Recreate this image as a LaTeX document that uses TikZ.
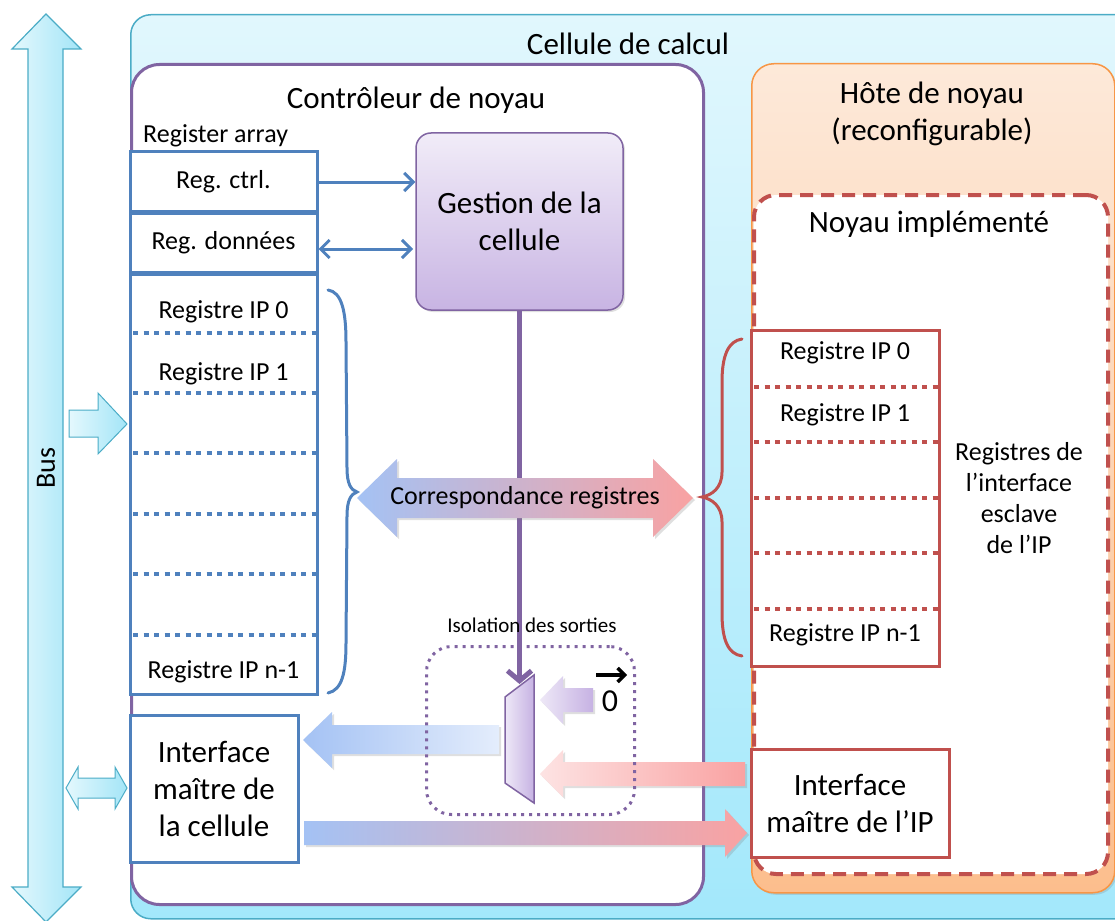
\documentclass[tikz,border=0pt]{standalone}
\usepackage{fontspec}
\setmainfont{Carlito}
\usetikzlibrary{arrows.meta,shadows}
\definecolor{cyanB}{HTML}{4BACC6}
\definecolor{cyanTop}{HTML}{E1F7FD}
\definecolor{cyanBot}{HTML}{A3E8FB}
\definecolor{orB}{HTML}{F79646}
\definecolor{orTop}{HTML}{FDE9D9}
\definecolor{orBot}{HTML}{FCBE8D}
\definecolor{purB}{HTML}{8064A2}
\definecolor{purTop}{HTML}{F1ECF8}
\definecolor{purBot}{HTML}{C8B4E3}
\definecolor{bluB}{HTML}{4F81BD}
\definecolor{redB}{HTML}{C0504D}
\definecolor{arBlue}{HTML}{A4C2F4}
\definecolor{arBlueL}{HTML}{E4EDFC}
\definecolor{arPink}{HTML}{F9A2A2}
\definecolor{arPinkL}{HTML}{FDE3E3}
\definecolor{arPurL}{HTML}{EEE8F7}
\definecolor{arPur}{HTML}{C6B2E3}
\definecolor{busL}{HTML}{E4F8FD}
\definecolor{busD}{HTML}{A3E5F7}
\begin{document}
\begin{tikzpicture}[x=1pt,y=-1pt,
  big/.style={font=\fontsize{31}{37}\selectfont},
  med/.style={font=\fontsize{26}{31}\selectfont},
  small/.style={font=\fontsize{21}{25}\selectfont},
  bluebox/.style={draw=bluB, line width=3pt, fill=white, inner sep=0pt},
  redbox/.style={draw=redB, line width=3pt, fill=white, inner sep=0pt},
  bluedots/.style={draw=bluB, line width=4.5pt, dash pattern=on 5pt off 5.5pt},
  reddots/.style={draw=redB, line width=4.5pt, dash pattern=on 5pt off 5.5pt},
  thinarrow/.style={draw=bluB, line width=3pt},
  shad/.style={drop shadow={opacity=0.25, shadow xshift=2pt, shadow yshift=-2pt}},
  brace/.style={line width=3pt, line cap=round}
]
\useasboundingbox (0,0) rectangle (1115,920);
\clip (0,0) rectangle (1115,920);

% containers
\node[draw=cyanB, line width=1.5pt, rounded corners=20pt, top color=cyanTop, bottom color=cyanBot,
      minimum width=1010pt, minimum height=904pt, anchor=north west, inner sep=0pt] (cell) at (130,14) {};
\node[big] (celltxt) at (628,44) {Cellule de calcul};
\node[draw=purB, line width=3pt, rounded corners=28pt, fill=white,
      minimum width=572pt, minimum height=840pt, anchor=north west, inner sep=0pt] (ctrl) at (130,63) {};
\node[big] (ctrltxt) at (416,100) {Contrôleur de noyau};
\node[draw=orB, line width=1.5pt, rounded corners=22pt, top color=orTop, bottom color=orBot,
      minimum width=363pt, minimum height=829pt, anchor=north west, inner sep=0pt, shad] (host) at (751,63) {};
\node[big, align=center] (hosttxt) at (932,114) {Hôte de noyau\\(reconfigurable)};
\node[draw=redB, line width=4pt, dash pattern=on 13pt off 8pt, rounded corners=22pt, fill=white,
      minimum width=354pt, minimum height=679pt, anchor=north west, inner sep=0pt] (impl) at (752,193) {};
\node[big] (impltxt) at (929,224) {Noyau implémenté};

% Bus
\shade[left color=busL, right color=busD, draw=cyanB, line width=1.2pt]
  (46,14) -- (81,49) -- (63,49) -- (63,887) -- (81,887) -- (46,922) -- (12,887) -- (28,887) -- (28,49) -- (12,49) -- cycle;
\node[font=\fontsize{28}{32}\selectfont, rotate=90] (bus) at (46,468) {Bus};
\shade[left color=busL, right color=busD, draw=cyanB, line width=1pt]
  (69,410) -- (98,410) -- (98,393) -- (127,424) -- (98,454) -- (98,437) -- (69,437) -- cycle;
\shade[left color=busL, right color=busD, draw=cyanB, line width=1pt]
  (66,788) -- (78,767) -- (78,778) -- (115,778) -- (115,767) -- (127,788) -- (115,809) -- (115,798) -- (78,798) -- (78,809) -- cycle;

% Register array
\node[med, anchor=west, inner sep=0pt] (ratxt) at (143,136) {Register array};
\node[bluebox, minimum width=187pt, minimum height=59pt] (rctrl) at (223.5,181.5) {};
\node[med] at (rctrl) {Reg. ctrl.};
\node[bluebox, minimum width=187pt, minimum height=59pt] (rdata) at (223.5,242.5) {};
\node[med] at (rdata) {Reg. données};
\node[bluebox, minimum width=187pt, minimum height=420pt] (ipbox) at (223.5,484) {};
\foreach \yy in {333,393,453,514,574,635} \draw[bluedots] (133,\yy) -- (316,\yy);
\node[med] (ip0) at (223.5,312) {Registre IP 0};
\node[med] (ip1) at (223.5,374) {Registre IP 1};
\node[med] (ipn) at (223.5,672) {Registre IP n-1};
\draw[bluB, brace] (328,290) .. controls (342,292) and (346,312) .. (346,342) -- (347,468)
  .. controls (347,484) and (351,490) .. (357,492) .. controls (351,494) and (347,500) .. (347,516)
  -- (346,643) .. controls (346,673) and (342,690) .. (328,693);

% Gestion
\node[draw=purB, line width=1.5pt, rounded corners=15pt, top color=purTop, bottom color=purBot,
      minimum width=207pt, minimum height=177pt, inner sep=0pt, big, align=center, shad] (gest) at (519.5,221.5) {Gestion de la\\cellule};
\draw[thinarrow, -{Straight Barb[length=9pt,width=18pt]}] (rctrl.east |- 0,182) -- (gest.west |- 0,182);
\draw[thinarrow, {Straight Barb[length=9pt,width=18pt]}-{Straight Barb[length=9pt,width=18pt]}] (rdata.east |- 0,249) -- (413,249);

% purple line
\coordinate (muxtop) at (519.5,684);
\draw[purB, line width=5pt, -{Straight Barb[length=10pt,width=24pt]}] (gest.south) -- (muxtop);

% Correspondance
\shade[left color=arBlue, right color=arPink, shad]
  (357,498) -- (397,459) -- (397,478) -- (653,478) -- (653,459) -- (693,498) -- (653,537) -- (653,518) -- (397,518) -- (397,537) -- cycle;
\node[med] (corr) at (525,498) {Correspondance registres};

% slave registers
\node[redbox, minimum width=188pt, minimum height=336pt] (sreg) at (845,498) {};
\foreach \yy in {387,442,498,553,609} \draw[reddots] (754,\yy) -- (938,\yy);
\node[med] (s0) at (845,353) {Registre IP 0};
\node[med] (s1) at (845,415) {Registre IP 1};
\node[med] (sn) at (845,635) {Registre IP n-1};
\draw[redB, brace] (742,339) .. controls (728,341) and (722,356) .. (722,382) -- (722,472)
  .. controls (722,488) and (712,495) .. (702,497) .. controls (712,499) and (722,506) .. (722,522)
  -- (722,613) .. controls (722,640) and (728,654) .. (742,656);
\node[med, align=center] (sregtxt) at (1019,498) {Registres de\\l’interface\\esclave\\de l’IP};

% interfaces
\node[bluebox, minimum width=168pt, minimum height=147pt, big, align=center] (icell) at (214,788.5) {Interface\\maître de\\la cellule};
\node[redbox, minimum width=198pt, minimum height=108pt, big, align=center] (iip) at (850,803) {Interface\\maître de l’IP};

% block arrows
\shade[left color=arBlue, right color=arBlueL, shad]
  (303,740) -- (332,712) -- (332,725) -- (499,725) -- (499,754) -- (332,754) -- (332,768) -- cycle;
\shade[left color=arPinkL, right color=arPink, shad]
  (540,774) -- (563,750) -- (563,762) -- (745,762) -- (745,786) -- (563,786) -- (563,797) -- cycle;
\shade[left color=arPurL, right color=arPur, shad]
  (540,700) -- (563,676) -- (563,688) -- (593,688) -- (593,712) -- (563,712) -- (563,724) -- cycle;
\shade[left color=arBlue, right color=arPink, shad]
  (304,821) -- (725,821) -- (725,809) -- (747,833) -- (725,857) -- (725,845) -- (304,845) -- cycle;

% mux
\shade[left color=arPurL, right color=arPur, draw=purB, line width=1.5pt]
  (505,697) -- (534,675) -- (534,803) -- (505,783) -- cycle;
\node[font=\fontsize{32}{36}\selectfont] (zero) at (610,701) {0};
\draw[black, line width=3.5pt, -{Straight Barb[length=7pt,width=14pt]}] (596,675) -- (627,675);

% isolation
\node[small] (isotxt) at (532,625) {Isolation des sorties};
\node[draw=purB, line width=3pt, dash pattern=on 3pt off 5pt, rounded corners=25pt,
      minimum width=208pt, minimum height=168pt, anchor=north west, inner sep=0pt] (iso) at (425,645) {};
\end{tikzpicture}
\end{document}
